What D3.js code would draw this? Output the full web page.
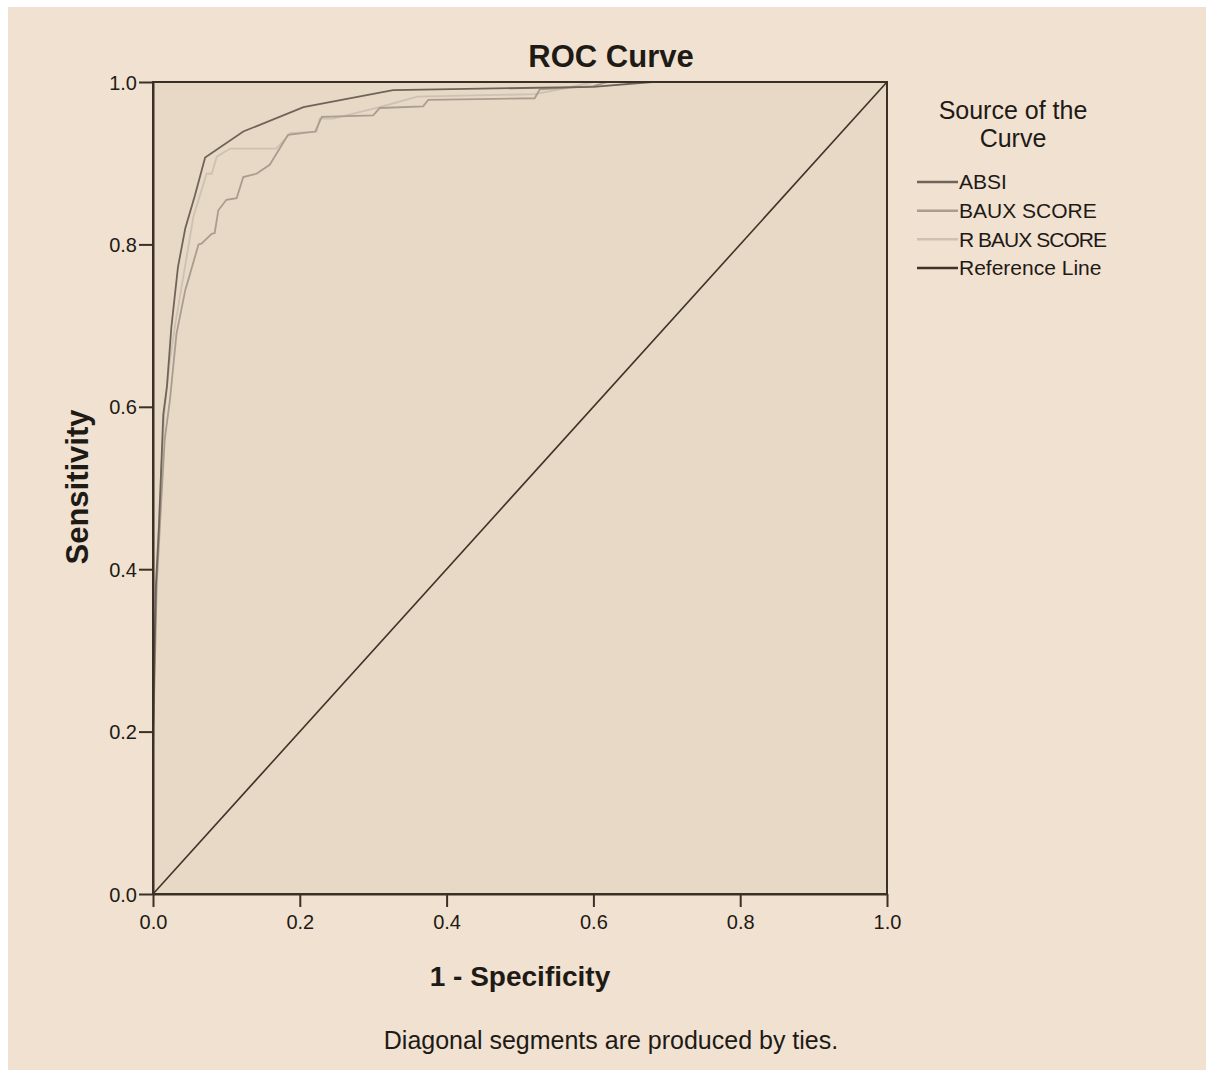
<!DOCTYPE html>
<html>
<head>
<meta charset="utf-8">
<script src="https://cdn.jsdelivr.net/npm/d3@7"></script>
<style>
  body { margin: 0; background: #ffffff; }
  svg text { fill: #1e1a16; }
</style>
</head>
<body>
<svg id="chart" width="1213" height="1078"></svg>
<script>
// ROC curve points (1 - specificity, sensitivity)
const absiX = [0, 0, 0.004, 0.008, 0.011, 0.014, 0.019, 0.025, 0.034, 0.044, 0.057, 0.071, 0.123, 0.205, 0.327, 0.60, 0.68, 1.0];
const absiY = [0, 0.2, 0.38, 0.45, 0.52, 0.59, 0.625, 0.698, 0.772, 0.82, 0.86, 0.907, 0.939, 0.969, 0.990, 0.994, 1.0, 1.0];

const bauxX = [0, 0, 0.005, 0.011, 0.016, 0.023, 0.032, 0.044, 0.048, 0.062, 0.066, 0.080, 0.084, 0.089, 0.100, 0.114, 0.123, 0.141, 0.159, 0.184, 0.221, 0.230, 0.300, 0.309, 0.368, 0.375, 0.52, 0.527, 0.60, 0.62, 1.0];
const bauxY = [0, 0.18, 0.38, 0.48, 0.56, 0.608, 0.69, 0.744, 0.756, 0.80, 0.801, 0.813, 0.814, 0.842, 0.855, 0.857, 0.883, 0.887, 0.898, 0.935, 0.939, 0.957, 0.959, 0.968, 0.970, 0.978, 0.980, 0.991, 0.995, 1.0, 1.0];

const rbauxX = [0, 0, 0.005, 0.010, 0.016, 0.022, 0.030, 0.045, 0.055, 0.073, 0.080, 0.087, 0.105, 0.168, 0.187, 0.223, 0.227, 0.245, 0.305, 0.36, 0.52, 0.56, 0.60, 1.0];
const rbauxY = [0, 0.19, 0.40, 0.50, 0.60, 0.65, 0.70, 0.78, 0.834, 0.887, 0.887, 0.908, 0.918, 0.918, 0.937, 0.939, 0.955, 0.955, 0.968, 0.982, 0.985, 0.992, 1.0, 1.0];

const refX = [0, 1];
const refY = [0, 1];

const seriesNames = ["ABSI", "BAUX SCORE", "R BAUX SCORE", "Reference Line"];
const seriesColors = ["#6f645a", "#a99d90", "#cdc1b3", "#3d3329"];
const tickValues = [0, 0.2, 0.4, 0.6, 0.8, 1.0];

const plain = "'Liberation Sans', Arial, sans-serif";

const svg = d3.select("#chart");

// outer panel
svg.append("rect")
    .attr("x", 8).attr("y", 7)
    .attr("width", 1198).attr("height", 1063)
    .attr("fill", "#f1e1d0");

const margin = {left: 153, top: 82},
    w = 734,
    h = 812;

const x = d3.scaleLinear().domain([0, 1]).range([margin.left, margin.left + w]);
const y = d3.scaleLinear().domain([0, 1]).range([margin.top + h, margin.top]);

// plot background
svg.append("rect")
    .attr("x", x(0)).attr("y", y(1))
    .attr("width", w).attr("height", h)
    .attr("fill", "#e8d8c6");

const series = [
    {x: absiX, y: absiY},
    {x: bauxX, y: bauxY},
    {x: rbauxX, y: rbauxY},
    {x: refX, y: refY}
];

const line = d3.line()
    .x(d => x(d[0]))
    .y(d => y(d[1]));

// draw lightest first so darker lines sit on top
[2, 1, 0, 3].forEach(i => {
    const pts = series[i].x.map((v, k) => [v, series[i].y[k]]);
    svg.append("path")
        .datum(pts)
        .attr("fill", "none")
        .attr("stroke", seriesColors[i])
        .attr("stroke-width", i == 3 ? 1.6 : 1.8)
        .attr("d", line);
});

// frame
svg.append("rect")
    .attr("x", x(0)).attr("y", y(1))
    .attr("width", w).attr("height", h)
    .attr("fill", "none")
    .attr("stroke", "#3a3026")
    .attr("stroke-width", 2);

// axes
const xAxis = svg.append("g")
    .attr("transform", "translate(0," + y(0) + ")")
    .call(d3.axisBottom(x)
        .tickValues(tickValues)
        .tickFormat(d3.format(".1f"))
        .tickSize(13)
        .tickSizeOuter(0)
        .tickPadding(8));

const yAxis = svg.append("g")
    .attr("transform", "translate(" + x(0) + ",0)")
    .call(d3.axisLeft(y)
        .tickValues(tickValues)
        .tickFormat(d3.format(".1f"))
        .tickSize(14)
        .tickSizeOuter(0)
        .tickPadding(2));

[xAxis, yAxis].forEach(g => {
    g.select(".domain").attr("stroke", "#3a3026").attr("stroke-width", 2);
    g.selectAll(".tick line").attr("stroke", "#3a3026").attr("stroke-width", 2);
    g.selectAll(".tick text")
        .attr("fill", "#2a241e")
        .style("font-family", plain)
        .style("font-size", "20px");
});
yAxis.selectAll(".tick text").attr("dy", "0.35em");

// titles
svg.append("text")
    .attr("x", 611).attr("y", 67)
    .attr("text-anchor", "middle")
    .style("font-family", plain)
    .style("font-weight", "bold")
    .style("font-size", "31px")
    .text("ROC Curve");

svg.append("text")
    .attr("x", 520).attr("y", 986)
    .attr("text-anchor", "middle")
    .style("font-family", plain)
    .style("font-weight", "bold")
    .style("font-size", "28px")
    .text("1 - Specificity");

svg.append("text")
    .attr("transform", "translate(88,487) rotate(-90)")
    .attr("text-anchor", "middle")
    .style("font-family", plain)
    .style("font-weight", "bold")
    .style("font-size", "31px")
    .text("Sensitivity");

svg.append("text")
    .attr("x", 611).attr("y", 1049)
    .attr("text-anchor", "middle")
    .style("font-family", plain)
    .style("font-size", "25px")
    .text("Diagonal segments are produced by ties.");

// legend
const legend = svg.append("g");
legend.append("text")
    .attr("x", 1013).attr("y", 119)
    .attr("text-anchor", "middle")
    .style("font-family", plain)
    .style("font-size", "25px")
    .text("Source of the");
legend.append("text")
    .attr("x", 1013).attr("y", 147)
    .attr("text-anchor", "middle")
    .style("font-family", plain)
    .style("font-size", "25px")
    .text("Curve");

const legendY = d3.scalePoint().domain(seriesNames).range([182, 268]);

seriesNames.forEach((name, i) => {
    legend.append("line")
        .attr("x1", 917).attr("x2", 958)
        .attr("y1", legendY(name)).attr("y2", legendY(name))
        .attr("stroke", seriesColors[i])
        .attr("stroke-width", 2.5);
    legend.append("text")
        .attr("x", 959).attr("y", legendY(name))
        .attr("dy", "0.35em")
        .style("font-family", plain)
        .style("font-size", "21px")
        .attr("textLength", name == "R BAUX SCORE" ? 148 : null)
        .text(name);
});
</script>
</body>
</html>
